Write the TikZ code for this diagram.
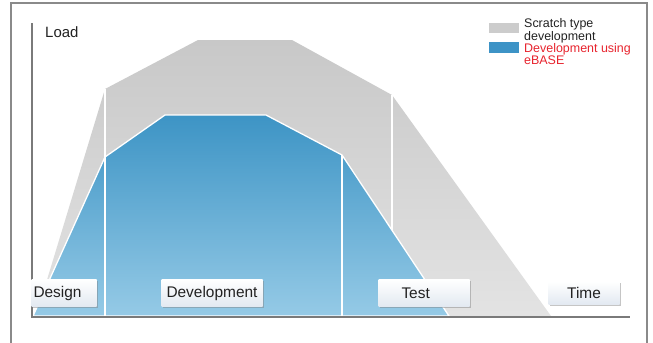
\documentclass[tikz,border=0pt]{standalone}
\usepackage{fontspec}
\setmainfont{Liberation Sans}
\usetikzlibrary{shadows}
\definecolor{framegray}{HTML}{8A8A8A}
\definecolor{axisgray}{HTML}{7A7A7A}
\definecolor{graytop}{HTML}{C8C8C8}
\definecolor{graybot}{HTML}{E3E3E3}
\definecolor{bluetop}{HTML}{3D94C5}
\definecolor{bluebot}{HTML}{95CAE6}
\definecolor{legblue}{HTML}{3D93C6}
\definecolor{leggray}{HTML}{CCCCCC}
\definecolor{legred}{HTML}{E8242E}
\definecolor{txt}{HTML}{222222}
\definecolor{boxbot}{HTML}{E2E9F1}
\tikzset{
  labelbox/.style={inner ysep=0pt, inner xsep=4bp, outer sep=0pt, minimum height=27bp,
    top color=white, bottom color=boxbot, text=txt,
    font=\fontsize{15.5}{15.5}\selectfont,
    drop shadow={shadow xshift=1.5bp, shadow yshift=-1.5bp, opacity=0.45, fill=gray}},
  legtext/.style={inner sep=0pt, align=left, font=\fontsize{12.5}{9.2}\selectfont},
  divider/.style={draw=white, line width=1.3bp},
}
\begin{document}
\begin{tikzpicture}[x=1bp, y=-1bp]
\useasboundingbox (0,0) rectangle (653,342);
\fill[white] (0,0) rectangle (653,342);
% frame
\draw[framegray, line width=2bp] (11,3) rectangle (646.5,360);
% gray area
\shade[top color=graytop, bottom color=graybot] (36,316) -- (105,89) -- (198,40) -- (292,40) -- (392,95) -- (551,316) -- cycle;
\draw[divider] (105,89) -- (105,316);
\draw[divider] (392,95) -- (392,316);
% blue area
\shade[top color=bluetop, bottom color=bluebot, draw=white, line width=1.3bp] (33,316) -- (105,157) -- (165,115) -- (266,115) -- (342,155) -- (449,316) -- cycle;
\draw[divider] (105,157) -- (105,316);
\draw[divider] (342,155) -- (342,316);
% axes
\coordinate (ytop) at (32,23);
\coordinate (origin) at (32,317);
\coordinate (xend) at (630,317);
\draw[axisgray, line width=1.5bp] (ytop) -- (origin) -- (xend);
\node[anchor=base west, inner sep=0pt, text=txt, font=\fontsize{15}{15}\selectfont] (load) at (45,37) {Load};
% legend
\fill[leggray] (489,22.5) rectangle (519,33.3);
\fill[legblue] (489,42.3) rectangle (519,53.3);
\node[legtext, text=txt, anchor=north west] (leg1) at (524,18.5) {Scratch type\\development};
\node[legtext, text=legred, anchor=north west] (leg2) at (524,43) {Development using\\eBASE};
% labels
\node[labelbox, text width=61bp, inner xsep=2bp, align=left] (design) at (64,293) {Design};
\node[labelbox, text width=93bp, align=center] (dev) at (212,293) {Development};
\node[labelbox, text width=45bp, inner xsep=23bp, align=left] (test) at (424,293) {Test};
\node[labelbox, text width=63bp, minimum height=23bp, align=center] (time) at (584,293) {Time};
\end{tikzpicture}
\end{document}
